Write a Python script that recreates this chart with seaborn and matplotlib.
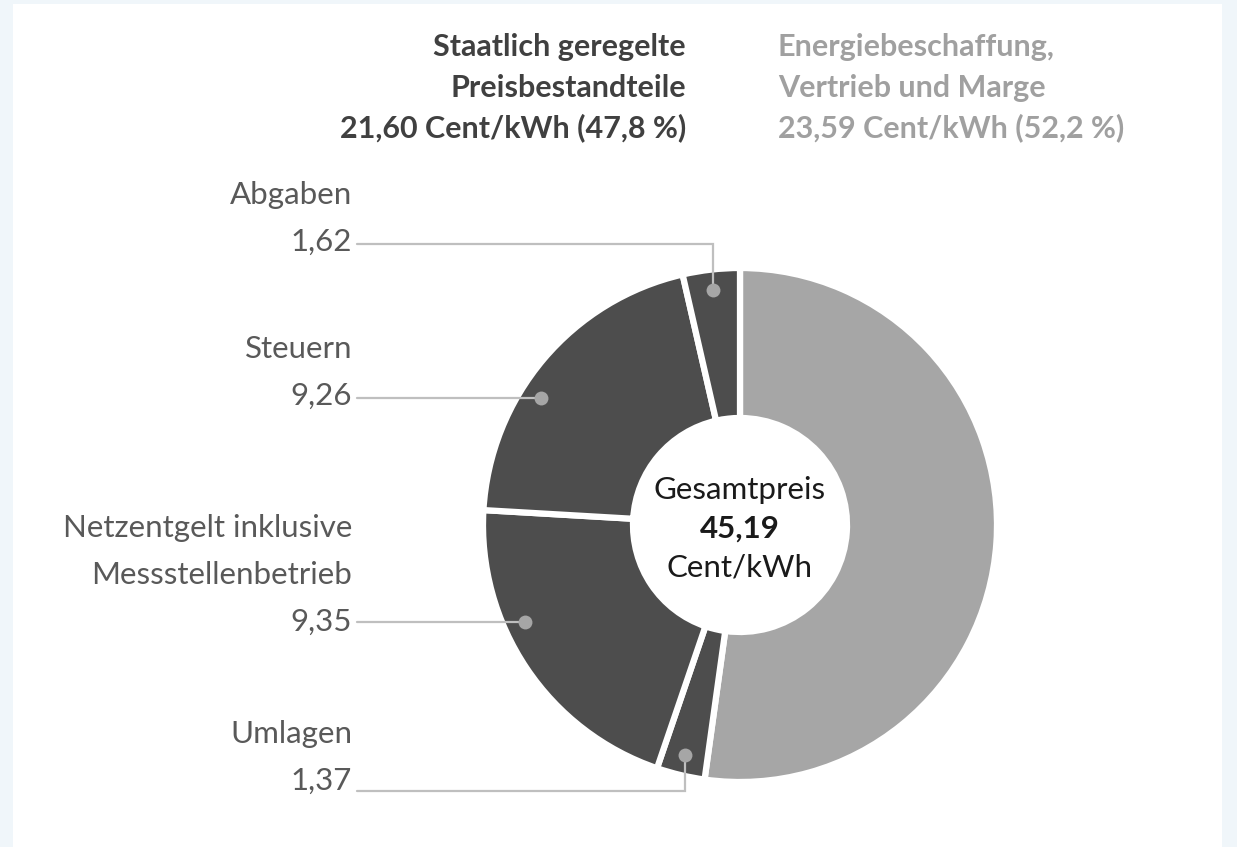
import numpy as np
import matplotlib
matplotlib.use("Agg")
import matplotlib.pyplot as plt
import matplotlib.patches as mpatches
import seaborn as sns

# Daten (Cent/kWh), im Uhrzeigersinn ab 12 Uhr
teile = ['Energiebeschaffung, Vertrieb und Marge', 'Umlagen',
         'Netzentgelt inklusive Messstellenbetrieb', 'Steuern', 'Abgaben']
werte = [23.59, 1.37, 9.35, 9.26, 1.62]
farben = ['#a6a6a6', '#4d4d4d', '#4d4d4d', '#4d4d4d', '#4d4d4d']

label_texte = {
    'Abgaben': ['Abgaben', '1,62'],
    'Steuern': ['Steuern', '9,26'],
    'Netzentgelt inklusive Messstellenbetrieb': ['Netzentgelt inklusive', 'Messstellenbetrieb', '9,35'],
    'Umlagen': ['Umlagen', '1,37'],
}
titel_links = ['Staatlich geregelte', 'Preisbestandteile', '21,60 Cent/kWh (47,8 %)']
titel_rechts = ['Energiebeschaffung,', 'Vertrieb und Marge', '23,59 Cent/kWh (52,2 %)']
mitte = ['Gesamtpreis', '45,19', 'Cent/kWh']

sns.set_theme(style='white')
plt.rcParams['font.family'] = ['Lato', 'DejaVu Sans']

W, H = 1237, 847
fig = plt.figure(figsize=(W / 100, H / 100), dpi=100, facecolor='#f0f6fa')
ax = fig.add_axes([0, 0, 1, 1])
ax.set_facecolor('none')


def Y(y):
    return H - y


# weisses Panel
ax.add_patch(mpatches.Rectangle((13, Y(H)), 1222 - 13, H - 4, facecolor='white',
                                edgecolor='none', zorder=0))

cx, cy = 740, 525
R, r_in = 257, 107
ax.pie(werte, colors=farben, startangle=90, counterclock=False, radius=R,
       center=(cx, Y(cy)),
       wedgeprops=dict(width=R - r_in, edgecolor='white', linewidth=4.5))
ax.set_xlim(0, W)
ax.set_ylim(0, H)
ax.set_aspect('equal')
ax.axis('off')

# Winkel der Segmente
total = sum(werte)
grenzen = 90 - 360 * np.cumsum([0] + werte) / total
mitten = {t: (grenzen[i] + grenzen[i + 1]) / 2 for i, t in enumerate(teile)}

lab_fs = 22.5
tit_fs = 22
lab_col = '#595959'
line_col = '#bfbfbf'
dot_col = '#a6a6a6'
r_dot = 236
x_text = 352
x_line0 = 357
zeilen = 47

# Beschriftungen: y der Zahl-Zeile
label_y = {'Abgaben': 242, 'Steuern': 396,
           'Netzentgelt inklusive Messstellenbetrieb': 622, 'Umlagen': 781}
line_y = {'Abgaben': 244, 'Steuern': 398,
          'Netzentgelt inklusive Messstellenbetrieb': 622, 'Umlagen': 791}

for teil, zeilen_txt in label_texte.items():
    y0 = label_y[teil]
    n = len(zeilen_txt)
    for k, z in enumerate(zeilen_txt):
        ax.text(x_text, Y(y0 - (n - 1 - k) * zeilen), z, ha='right', va='center',
                fontsize=lab_fs, color=lab_col)
    ly = line_y[teil]
    if teil in ('Abgaben', 'Umlagen'):
        a = np.deg2rad(mitten[teil])
        dx, dy = cx + r_dot * np.cos(a), cy - r_dot * np.sin(a)
        ax.plot([x_line0, dx, dx], [Y(ly), Y(ly), Y(dy)], color=line_col, lw=1.6,
                solid_joinstyle='miter', zorder=3)
    else:
        dy = ly
        dx = cx - np.sqrt(r_dot ** 2 - (cy - ly) ** 2)
        ax.plot([x_line0, dx], [Y(ly), Y(ly)], color=line_col, lw=1.6, zorder=3)
    ax.plot(dx, Y(dy), 'o', color=dot_col, markersize=10, markeredgewidth=0, zorder=4)

# Ueberschriften
for k, (tl, tr) in enumerate(zip(titel_links, titel_rechts)):
    yy = [47, 88, 128][k]
    ax.text(686, Y(yy), tl, ha='right', va='center', fontsize=tit_fs,
            fontweight='bold', color='#404040')
    ax.text(778, Y(yy), tr, ha='left', va='center', fontsize=tit_fs,
            fontweight='bold', color='#a0a0a0')

# Mitte
for k, z in enumerate(mitte):
    ax.text(cx, Y([490, 529, 568][k]), z, ha='center', va='center', fontsize=lab_fs,
            fontweight='bold' if k == 1 else 'normal', color='#1a1a1a')

fig.savefig('out.png', dpi=100, facecolor=fig.get_facecolor())
